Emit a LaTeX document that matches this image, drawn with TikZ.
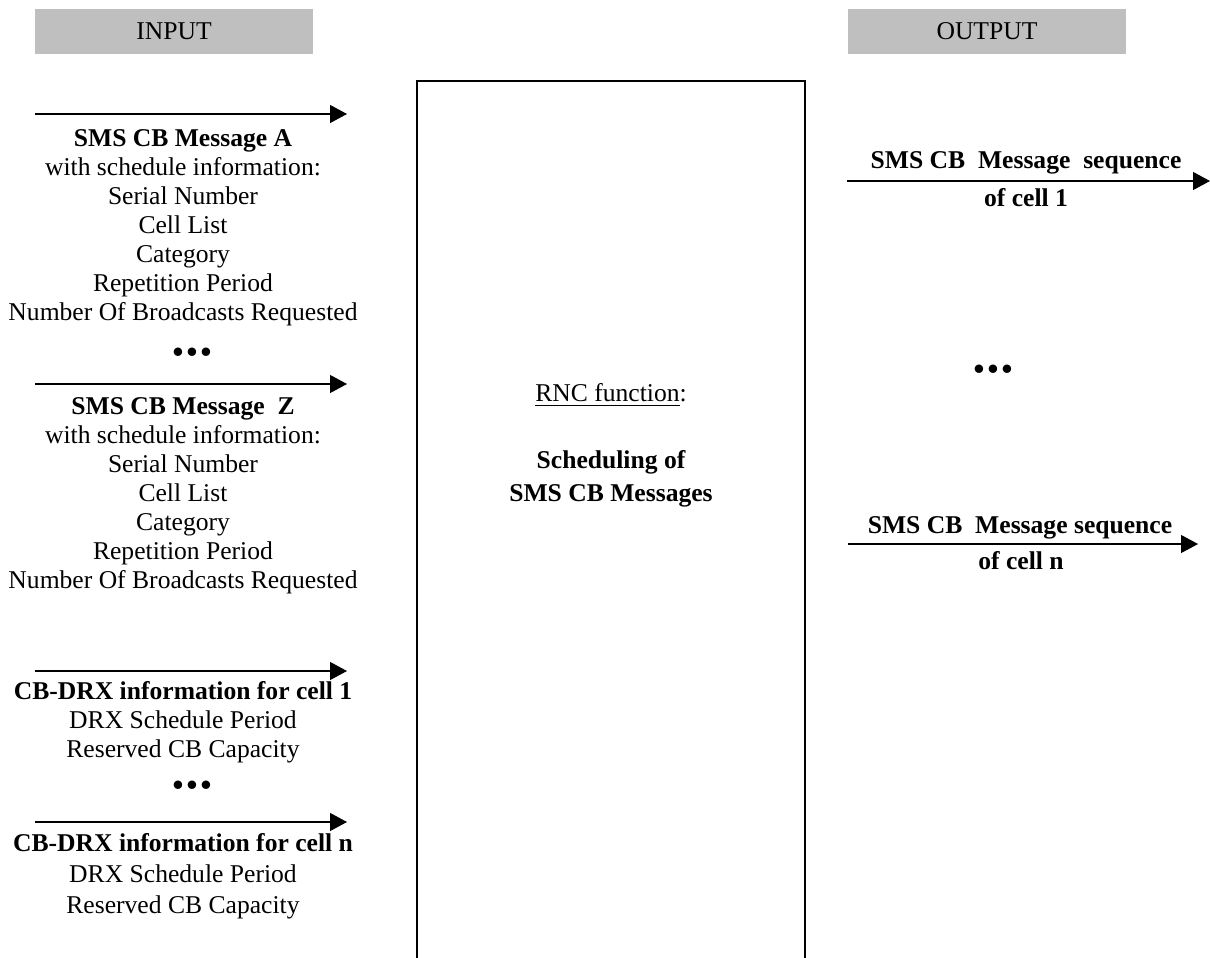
\documentclass[tikz,border=0pt]{standalone}
\usepackage{fontspec}
\setmainfont{Liberation Serif}
\usetikzlibrary{arrows.meta}
\usetikzlibrary{calc}

\newcommand{\dotgap}{\textbullet\hspace{1.6pt}\textbullet\hspace{1.6pt}\textbullet}

\begin{document}
\begin{tikzpicture}[x=0.5pt, y=-0.5pt,
    headbox/.style={fill=gray!50, minimum width=139pt, minimum height=22.5pt, inner sep=0pt},
    infotext/.style={align=center, inner sep=0pt, font=\fontsize{12.8}{14.5}\selectfont},
    dotrow/.style={inner sep=0pt, font=\fontsize{15.5}{15.5}\selectfont\bfseries},
    flow/.style={line width=0.6pt, -{Triangle[length=8.5pt, width=9pt]}}]
      \useasboundingbox (0, 0) rectangle (1210, 958);

      % column headings
      \node[headbox, infotext] (inhead) at (174, 31.5) {INPUT};
      \node[headbox, infotext] (outhead) at (987, 31.5) {OUTPUT};

      % scheduling function, open at the bottom
      \draw[line width=0.6pt] (417, 958) |- (805, 81) -- (805, 958);
      \node[infotext] (rncf) at (611, 395) {\underline{RNC function}:};
      \node[infotext, font=\fontsize{12.8}{16.5}\selectfont\bfseries] (sched) at (611, 479)
        {Scheduling of \\ SMS CB Messages};

      % input messages
      \coordinate (ma1) at (35, 114);  \coordinate (ma2) at (347, 114);
      \coordinate (mz1) at (35, 384);  \coordinate (mz2) at (347, 384);
      \coordinate (d11) at (35, 671);  \coordinate (d12) at (347, 671);
      \coordinate (dn1) at (35, 822);  \coordinate (dn2) at (347, 822);
      \draw[flow] (ma1) -- (ma2);
      \draw[flow] (mz1) -- (mz2);
      \draw[flow] (d11) -- (d12);
      \draw[flow] (dn1) -- (dn2);

      \node[infotext] (msga) at (183, 228) {\textbf{SMS CB Message A} \\ with schedule information: \\
        Serial Number \\ Cell List \\ Category \\ Repetition Period \\ Number Of Broadcasts Requested};
      \node[dotrow] (dotsa) at (192, 355) {\dotgap};
      \node[infotext] (msgz) at (183, 496) {\textbf{SMS CB Message\ \ Z} \\ with schedule information: \\
        Serial Number \\ Cell List \\ Category \\ Repetition Period \\ Number Of Broadcasts Requested};
      \node[infotext] (drx1) at (183, 722) {\textbf{CB-DRX information for cell 1} \\
        DRX Schedule Period \\ Reserved CB Capacity};
      \node[dotrow] (dotsd) at (192, 788) {\dotgap};
      \node[infotext, font=\fontsize{12.8}{15.5}\selectfont] (drxn) at (183, 876) {\textbf{CB-DRX information for cell n} \\
        DRX Schedule Period \\ Reserved CB Capacity};

      % output sequences
      \coordinate (s11) at (847, 181);  \coordinate (s12) at (1210, 181);
      \coordinate (sn1) at (848, 544);  \coordinate (sn2) at (1198, 544);
      \draw[flow] (s11) -- (s12);
      \draw[flow] (sn1) -- (sn2);

      \node[infotext, font=\fontsize{12.8}{14.5}\selectfont\bfseries] (seq1a) at (1026, 163)
        {SMS CB\ \ Message\ \ sequence};
      \node[infotext, font=\fontsize{12.8}{14.5}\selectfont\bfseries] (seq1b) at (1026, 198) {of cell 1};
      \node[dotrow] (dotso) at (993, 372) {\dotgap};
      \node[infotext, font=\fontsize{12.8}{14.5}\selectfont\bfseries] (seqna) at (1020, 528)
        {SMS CB\ \ Message sequence};
      \node[infotext, font=\fontsize{12.8}{14.5}\selectfont\bfseries] (seqnb) at (1021, 561) {of cell n};
    \end{tikzpicture}
\end{document}
